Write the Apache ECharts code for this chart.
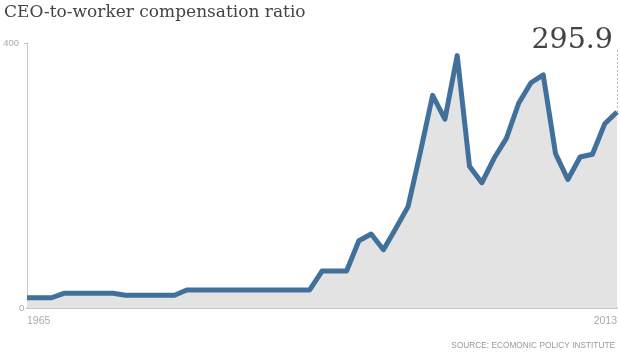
<!DOCTYPE html>
<html>
<head>
<meta charset="utf-8">
<script src="https://cdn.jsdelivr.net/npm/echarts@6/dist/echarts.min.js"></script>
<style>
html,body{margin:0;padding:0;background:#fff;}
#c{width:620px;height:356px;}
</style>
</head>
<body>
<div id="c"></div>
<script>
const titleText = "CEO-to-worker compensation ratio";
const sourceText = "SOURCE: ECOMONIC POLICY INSTITUTE";
const years = [1965,1966,1967,1968,1969,1970,1971,1972,1973,1974,1975,1976,1977,1978,1979,1980,1981,1982,1983,1984,1985,1986,1987,1988,1989,1990,1991,1992,1993,1994,1995,1996,1997,1998,1999,2000,2001,2002,2003,2004,2005,2006,2007,2008,2009,2010,2011,2012,2013];
const ratio = [15.5,15.5,15.5,22.2,22.2,22.2,22.2,22.2,19.2,19.2,19.2,19.2,19.2,27.2,27.2,27.2,27.2,27.2,27.2,27.2,27.2,27.2,27.2,27.2,55.8,55.8,55.8,101.6,111.7,88,120,153,235,321,285,381,214,189,226,256,309,340,352,233,194,228,232,278,295.9];
const yTicks = [0, 400];
const xTicks = [1965, 2013];

const chart = echarts.init(document.getElementById('c'), null, {renderer:'canvas'});
const lastIdx = years.length - 1;
chart.setOption({
  animation:false,
  backgroundColor:'#fff',
  title:{
    text:titleText, left:0, top:4, padding:[0,0,0,4],
    textStyle:{fontFamily:'DejaVu Serif', fontSize:17, fontWeight:'normal', color:'#444'}
  },
  graphic:[{
    type:'text', right:5, top:342,
    style:{text:sourceText, fontFamily:'Liberation Sans', fontSize:8.3, fill:'#999'}
  }],
  grid:{left:27, right:3, top:43, bottom:48, containLabel:false, outerBoundsMode:'none'},
  xAxis:{
    type:'value', min:xTicks[0], max:xTicks[1],
    axisLine:{show:true, lineStyle:{color:'#c8c8c8', width:2}},
    axisTick:{show:false},
    splitLine:{show:false},
    axisLabel:{
      customValues:xTicks, color:'#aaa', fontSize:10.5, margin:8,
      fontFamily:'Liberation Sans Narrow, Liberation Sans, sans-serif',
      formatter:(v)=>String(v),
      alignMinLabel:'left', alignMaxLabel:'right'
    }
  },
  yAxis:{
    type:'value', min:yTicks[0], max:yTicks[1], interval:400,
    axisLine:{show:true, lineStyle:{color:'#c8c8c8', width:1}},
    axisTick:{show:true, customValues:[400], length:3, lineStyle:{color:'#c8c8c8'}},
    splitLine:{show:false},
    axisLabel:{
      customValues:yTicks, color:'#aaa', fontSize:9.5, margin:8,
      formatter:(v)=>String(v),
      alignMinLabel:'bottom',
      fontFamily:'Liberation Sans Narrow, Liberation Sans, sans-serif'
    }
  },
  series:[{
    type:'line',
    data:years.map((y,i)=>[y, ratio[i]]),
    symbol:'none',
    lineStyle:{color:'#41719a', width:5, join:'round'},
    areaStyle:{color:'#e3e3e3', opacity:1},
    markLine:{
      silent:true, symbol:'none',
      lineStyle:{color:'#bbb', type:[2,2], width:1},
      label:{show:false},
      data:[[{coord:[years[lastIdx], ratio[lastIdx]]},{coord:[years[lastIdx], 392]}]]
    },
    markPoint:{
      symbol:'circle', symbolSize:0,
      data:[{coord:[years[lastIdx], ratio[lastIdx]], value:ratio[lastIdx]}],
      label:{
        show:true, position:[0,0], align:'right', verticalAlign:'bottom',
        offset:[-4,-57],
        formatter:(p)=>p.value.toFixed(1),
        fontFamily:'DejaVu Serif', fontSize:28.5, color:'#444'
      }
    }
  }]
});
</script>
</body>
</html>
